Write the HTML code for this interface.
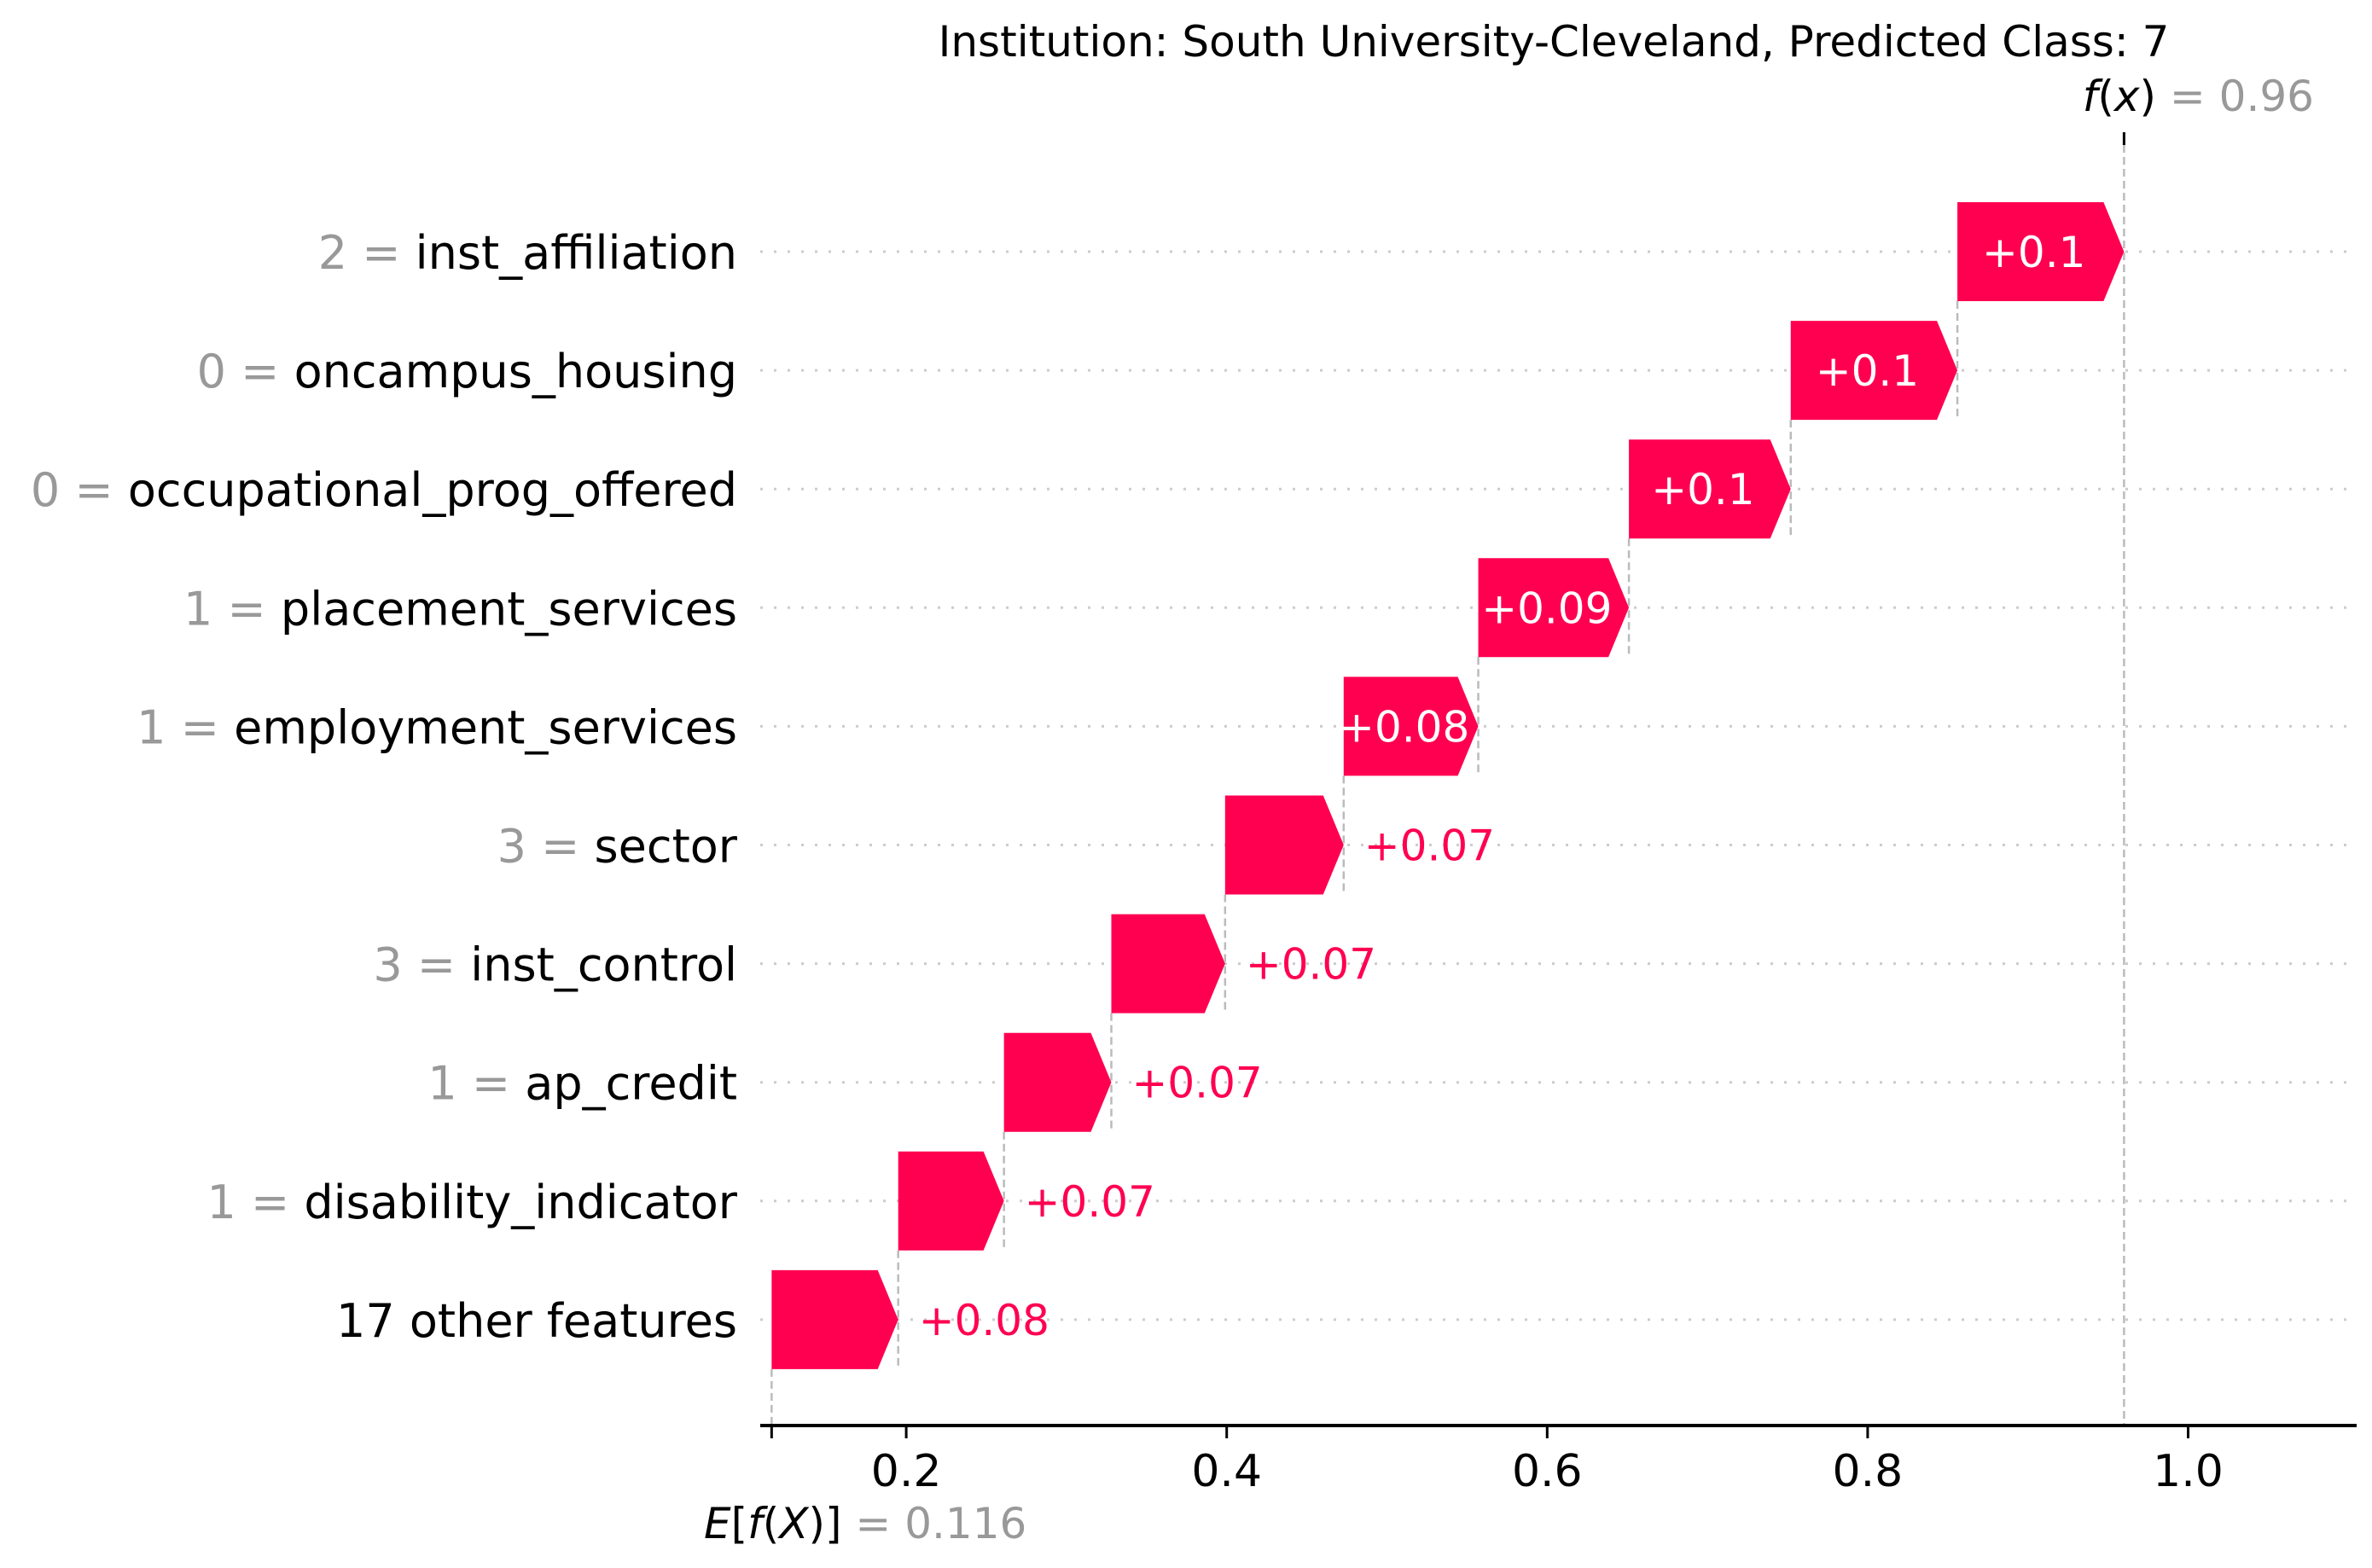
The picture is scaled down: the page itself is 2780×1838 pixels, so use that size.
<!DOCTYPE html>
<html><head><meta charset="utf-8"><style>
html,body{margin:0;padding:0;background:#fff}
svg{display:block;font-family:"DejaVu Sans","Liberation Sans",sans-serif}
</style></head><body>
<svg id="chart" width="2780" height="1838" viewBox="0 0 2780 1838" xmlns="http://www.w3.org/2000/svg">
<text x="1821" y="66" font-size="50" text-anchor="middle" fill="#000">Institution: South University-Cleveland, Predicted Class: 7</text>
<g id="grid"></g>
<g id="dashes"></g>
<g id="bars"></g>
<g id="ylabels"></g>
<g id="xaxis"></g>
</svg>
<script>
const featureValues = ["2","0","0","1","1","3","3","1","1",""];
const featureNames = ["inst_affiliation","oncampus_housing","occupational_prog_offered","placement_services","employment_services","sector","inst_control","ap_credit","disability_indicator","17 other features"];
const shapValues = [0.104,0.104,0.101,0.094,0.084,0.074,0.071,0.067,0.066,0.079];
const shapLabels = ["+0.1","+0.1","+0.1","+0.09","+0.08","+0.07","+0.07","+0.07","+0.07","+0.08"];
const baseValue = 0.116;
const xTicks = [0.2,0.4,0.6,0.8,1.0];
const xTickLabels = ["0.2","0.4","0.6","0.8","1.0"];

const NS = "http://www.w3.org/2000/svg";
const X0 = 686.5, XS = 1878;
const xs = v => X0 + v * XS;
const ROW0 = 295, ROWS = 139.1;
const ys = i => ROW0 + i * ROWS;
const BH = 116, HEAD = 24, AXY = 1671, LEFT = 891, RIGHT = 2762;
function el(tag, attrs, parent, txt){
  const e = document.createElementNS(NS, tag);
  for (const k in attrs) e.setAttribute(k, attrs[k]);
  if (txt !== undefined) e.textContent = txt;
  parent.appendChild(e); return e;
}
const grid = document.getElementById('grid'), dashes = document.getElementById('dashes'),
      bars = document.getElementById('bars'), ylab = document.getElementById('ylabels'),
      xaxis = document.getElementById('xaxis');
const n = featureNames.length;
const starts = new Array(n);
let cur = baseValue;
for (let i = n - 1; i >= 0; i--) { starts[i] = cur; cur += shapValues[i]; }
const fx = cur;

for (let i = 0; i < n; i++) {
  const y = ys(i);
  const g = el('line', {x1: LEFT, x2: RIGHT, y1: y, y2: y, stroke: '#ccc', 'stroke-width': 3, 'stroke-dasharray': '3 13'}, grid);
  
  

  const s = starts[i], e = s + shapValues[i];
  const x1 = xs(s), x2 = xs(e);
  const hl = Math.min(HEAD, x2 - x1);
  const top = y - BH / 2, bot = y + BH / 2;
  const p = el('polygon', {points: `${x1},${top} ${x2 - hl},${top} ${x2},${y} ${x2 - hl},${bot} ${x1},${bot}`, fill: '#ff0051'}, bars);
  
  

  const yEnd = (i === n - 1) ? AXY : ys(i + 1) + BH / 2;
  const d = el('line', {x1: x1, x2: x1, y1: bot, y2: yEnd, stroke: '#bbb', 'stroke-width': 2.5, 'stroke-dasharray': '9 5'}, dashes);
  
  

  const inside = (x2 - x1) > 150;
  const t = inside
    ? el('text', {x: (x1 + x2 - hl) / 2 + 4, y: y + 18, 'font-size': 50, fill: '#fff', 'text-anchor': 'middle'}, bars, shapLabels[i])
    : el('text', {x: x2 + 24, y: y + 18, 'font-size': 50, fill: '#ff0051'}, bars, shapLabels[i]);
  
  

  const lt = el('text', {x: 864, y: y + 20, 'font-size': 54, 'text-anchor': 'end', fill: '#000'}, ylab);
  
  
  if (featureValues[i] !== "") {
    el('tspan', {fill: '#999'}, lt, featureValues[i] + ' = ');
  }
  el('tspan', {}, lt, featureNames[i]);
}
const fl = el('line', {x1: xs(fx), x2: xs(fx), y1: 170, y2: AXY, stroke: '#bbb', 'stroke-width': 2.5, 'stroke-dasharray': '9 5'}, dashes);


const ft = el('line', {x1: xs(fx), x2: xs(fx), y1: 155, y2: 170, stroke: '#000', 'stroke-width': 3}, xaxis);


const fxl = el('text', {x: 2712, y: 130, 'font-size': 50, 'text-anchor': 'end'}, xaxis);


el('tspan', {'font-style': 'italic'}, fxl, 'f');
el('tspan', {}, fxl, '(');
el('tspan', {'font-style': 'italic'}, fxl, 'x');
el('tspan', {}, fxl, ') ');
el('tspan', {fill: '#999'}, fxl, '= ' + fx.toFixed(2));

const ax = el('line', {x1: LEFT, x2: RIGHT, y1: AXY, y2: AXY, stroke: '#000', 'stroke-width': 4}, xaxis);


for (let i = 0; i < xTicks.length; i++) {
  const x = xs(xTicks[i]);
  const tk = el('line', {x1: x, x2: x, y1: AXY, y2: AXY + 15, stroke: '#000', 'stroke-width': 3}, xaxis);
  
  
  const tl = el('text', {x: x, y: AXY + 71, 'font-size': 52, 'text-anchor': 'middle'}, xaxis, xTickLabels[i]);
  
  
}
const bt = el('line', {x1: xs(baseValue), x2: xs(baseValue), y1: AXY, y2: AXY + 15, stroke: '#000', 'stroke-width': 3}, xaxis);


const bl = el('text', {x: 825, y: 1803, 'font-size': 50}, xaxis);


el('tspan', {'font-style': 'italic'}, bl, 'E');
el('tspan', {}, bl, '[');
el('tspan', {'font-style': 'italic'}, bl, 'f');
el('tspan', {}, bl, '(');
el('tspan', {'font-style': 'italic'}, bl, 'X');
el('tspan', {}, bl, ')] ');
el('tspan', {fill: '#999'}, bl, '= ' + baseValue.toFixed(3));
</script>
</body></html>
